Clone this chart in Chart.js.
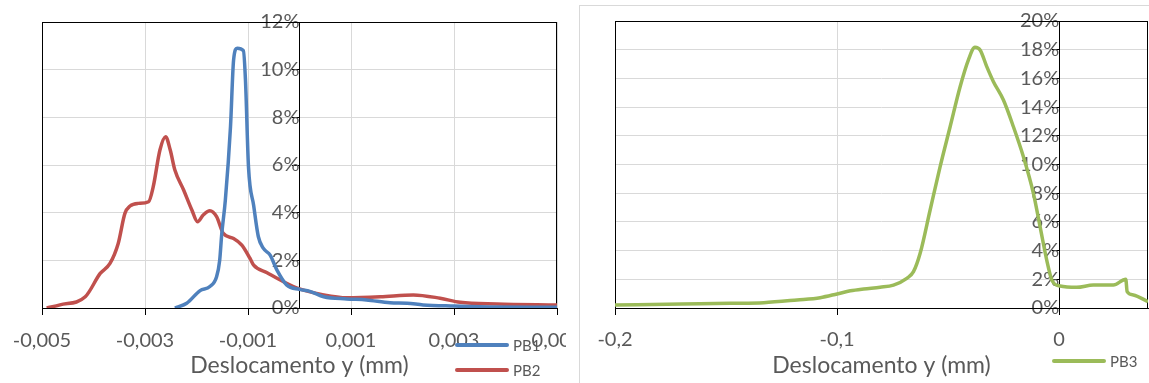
<!DOCTYPE html>
<html>
<head>
<meta charset="utf-8">
<script src="https://cdn.jsdelivr.net/npm/chart.js@4.4.1/dist/chart.umd.min.js"></script>
<style>
  body { margin: 0; background: #fff; width: 1149px; height: 383px; overflow: hidden; position: relative; font-family: Lato, sans-serif; }
  #c1 { position: absolute; left: 0; top: 0; }
  #panel2 { position: absolute; left: 579px; top: 5px; width: 570px; height: 378px; border-left: 1px solid #d9d9d9; border-top: 1px solid #d9d9d9; }
  #c2 { position: absolute; left: 0; top: 0; }
  .legend { position: absolute; font-size: 15px; color: #595959; }
  .legend .row { display: flex; align-items: center; height: 24.5px; }
  .legend .swatch { display: inline-block; width: 54px; height: 4px; border-radius: 2px; margin-right: 4px; }
</style>
</head>
<body>
<canvas id="c1" width="566" height="383"></canvas>
<div id="panel2"><canvas id="c2" width="569" height="377"></canvas></div>
<div class="legend" id="leg1" style="left:455px; top:333px;"></div>
<div class="legend" id="leg2" style="left:1052px; top:349px;"></div>
<script>
// left chart: tick labels
const leftXTicks = [-0.005, -0.003, -0.001, 0.001, 0.003, 0.005];
// right chart: tick labels
const rightXTicks = [-0.2, -0.1, 0];

// PB1 (displacement mm, frequency %)
const pb1X = [-0.00242, -0.00219, -0.00193, -0.00174, -0.00161, -0.00155, -0.00151, -0.00144, -0.00134, -0.00128,
  -0.00121, -0.00109, -0.00105, -0.00099, -0.00089, -0.0008, -0.0007, -0.00057, -0.00044, -0.00025,
  0, 0.0002, 0.00047, 0.00092, 0.0013, 0.00176, 0.00209, 0.0024, 0.003, 0.0035, 0.005];
const pb1Y = [0, 0.2, 0.73, 0.9, 1.31, 2.0, 3.1, 4.53, 7.6, 10.4,
  10.9, 10.8, 9.6, 5.9, 4.3, 3.0, 2.5, 2.22, 1.6, 0.97,
  0.78, 0.7, 0.47, 0.38, 0.34, 0.22, 0.2, 0.13, 0.08, 0.05, 0.03];

// PB2
const pb2X = [-0.00491, -0.00465, -0.00416, -0.00387, -0.00368, -0.00352, -0.00339, -0.00329, -0.00313, -0.00293,
  -0.00284, -0.00271, -0.0026, -0.00251, -0.00242, -0.00225, -0.00209, -0.00198, -0.00187, -0.00174,
  -0.00161, -0.00148, -0.00128, -0.00112, -0.00096, -0.00089, -0.00063, -0.00031, 0, 0.00047,
  0.00092, 0.00157, 0.00221, 0.00273, 0.00312, 0.00383, 0.005];
const pb2Y = [0, 0.13, 0.47, 1.45, 1.87, 2.71, 3.97, 4.28, 4.39, 4.46,
  5.09, 6.63, 7.19, 6.63, 5.79, 4.95, 4.11, 3.62, 3.9, 4.08,
  3.83, 3.13, 2.92, 2.64, 2.08, 1.8, 1.48, 1.1, 0.8, 0.55,
  0.43, 0.47, 0.55, 0.41, 0.24, 0.17, 0.13];

// PB3
const pb3X = [-0.2, -0.17, -0.148, -0.133, -0.118, -0.1076, -0.1, -0.094, -0.088, -0.0806,
  -0.0746, -0.0686, -0.0656, -0.0626, -0.0581, -0.0536, -0.0491, -0.0446, -0.0409, -0.0379,
  -0.0356, -0.0326, -0.0296, -0.0251, -0.0206, -0.0161, -0.0116, -0.0086, -0.0056, -0.0033,
  0.0004, 0.0079, 0.0154, 0.0244, 0.03, 0.0306, 0.0334, 0.04];
const pb3Y = [0.21, 0.28, 0.33, 0.37, 0.56, 0.72, 0.98, 1.2, 1.33, 1.45,
  1.6, 2.07, 2.53, 3.81, 6.83, 9.85, 12.63, 15.42, 17.28, 18.17,
  17.98, 16.82, 15.77, 14.49, 12.63, 10.54, 7.99, 5.67, 3.34, 1.95,
  1.53, 1.44, 1.6, 1.6, 2.0, 1.14, 0.91, 0.44];

const toPoints = (xs, ys) => xs.map((x, i) => ({ x: x, y: ys[i] }));

const textColor = "#595959";
const tickFont = { family: "Lato", size: 20 };

const frame = {
    id: "frame",
    beforeDatasetsDraw(chart) {
        const { ctx, chartArea: a } = chart;
        ctx.save();
        ctx.strokeStyle = "#000";
        ctx.lineWidth = 1;
        const l = Math.round(a.left) + 0.5, t = Math.round(a.top) + 0.5;
        const r = Math.round(a.right) - 0.5, b = Math.round(a.bottom) + 0.5;
        ctx.strokeRect(l, t, r - l, b - t);
        ctx.restore();
    },
};

const lineSet = (label, pts, color) => ({
    label: label,
    data: pts,
    borderColor: color,
    backgroundColor: color,
    borderWidth: 3.5,
    pointRadius: 0,
    cubicInterpolationMode: "monotone",
    fill: false,
});

const makeChart = (id, datasets, xMin, xMax, xTicks, fmt, yMax, padding, tickPad) => {
    return new Chart(document.getElementById(id), {
        type: "line",
        data: { datasets: datasets },
        plugins: [frame],
        options: {
            responsive: false,
            animation: false,
            layout: { padding: padding },
            plugins: { legend: { display: false }, tooltip: { enabled: false } },
            scales: {
                x: {
                    type: "linear",
                    position: "bottom",
                    min: xMin,
                    max: xMax,
                    afterBuildTicks: (s) => { s.ticks = xTicks.map((v) => ({ value: v })); },
                    afterFit: (s) => { s.height = 75; s.paddingLeft = 0; s.paddingRight = 0; },
                    grid: { color: "#d9d9d9", tickColor: "#000", tickLength: 7 },
                    border: { color: "#000", width: 1 },
                    ticks: { font: tickFont, color: textColor, padding: tickPad, maxRotation: 0, autoSkip: false, callback: fmt },
                    title: {
                        display: true,
                        text: "Deslocamento y (mm)",
                        font: { family: "Lato", size: 23 },
                        color: textColor,
                        padding: { top: 0, bottom: 4 },
                    },
                },
                y: {
                    type: "linear",
                    position: { x: 0 },
                    min: 0,
                    max: yMax,
                    afterFit: (s) => { s.paddingTop = 0; s.paddingBottom = 0; },
                    grid: { color: "#d9d9d9", tickColor: "#000", tickLength: 7 },
                    border: { color: "#000", width: 1 },
                    ticks: { stepSize: 2, font: tickFont, color: textColor, padding: 16, callback: (v) => v + "%" },
                },
            },
        },
    });
};

const leftChart = makeChart(
    "c1",
    [lineSet("PB1", toPoints(pb1X, pb1Y), "#4F81BD"), lineSet("PB2", toPoints(pb2X, pb2Y), "#C0504D")],
    -0.005, 0.005, leftXTicks,
    (v) => v.toFixed(3).replace(".", ","),
    12,
    { left: 42, right: 9, top: 22, bottom: 0 },
    14
);

const rightChart = makeChart(
    "c2",
    [lineSet("PB3", toPoints(pb3X, pb3Y), "#9BBB59")],
    -0.2, 0.04, rightXTicks,
    (v) => (v === 0 ? "0" : v.toFixed(1).replace(".", ",")),
    20,
    { left: 35, right: 1, top: 15, bottom: 0 },
    13
);

// legends from the datasets
const buildLegend = (chart, elId) => {
    const el = document.getElementById(elId);
    chart.data.datasets.forEach((ds) => {
        const row = document.createElement("div");
        row.className = "row";
        const sw = document.createElement("span");
        sw.className = "swatch";
        sw.style.background = ds.borderColor;
        const txt = document.createElement("span");
        txt.textContent = ds.label;
        row.appendChild(sw);
        row.appendChild(txt);
        el.appendChild(row);
    });
};
buildLegend(leftChart, "leg1");
buildLegend(rightChart, "leg2");
</script>
</body>
</html>
